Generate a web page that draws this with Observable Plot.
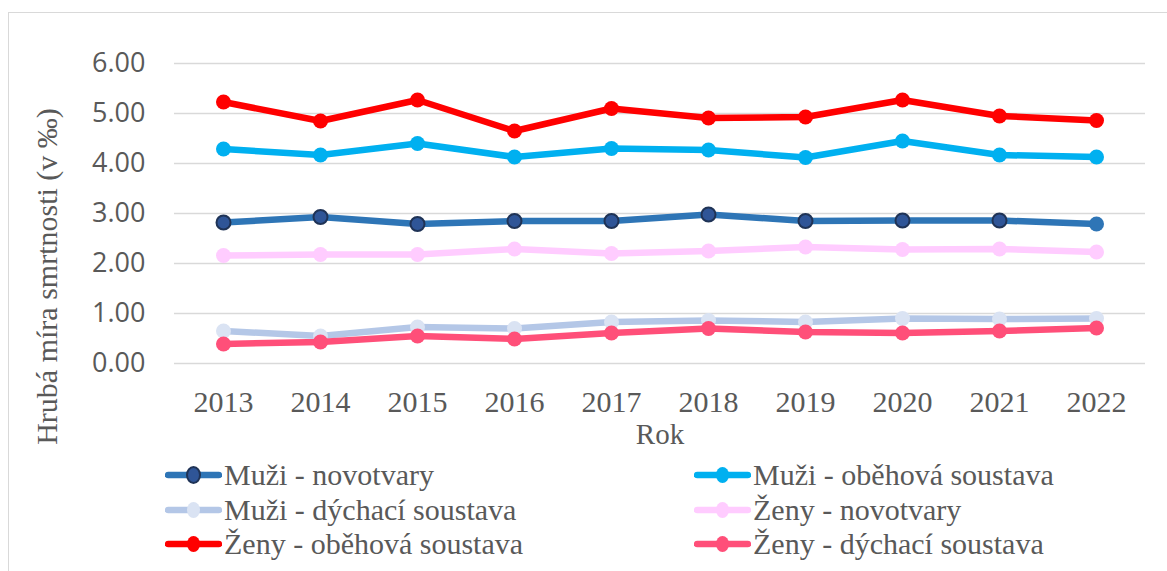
<!DOCTYPE html>
<html>
<head>
<meta charset="utf-8">
<script src="https://cdn.jsdelivr.net/npm/d3@7"></script>
<script src="https://cdn.jsdelivr.net/npm/@observablehq/plot@0.6"></script>
<style>
  html, body { margin: 0; padding: 0; background: #fff; }
  #wrap { position: relative; width: 1167px; height: 571px; overflow: hidden; }
  #frame { position: absolute; left: 8px; top: 12px; width: 1200px; height: 600px;
           border-left: 1.5px solid #D9D9D9; border-top: 1.5px solid #D9D9D9; }
  #chart { position: absolute; left: 0; top: 0; }
  .serif { font-family: "Liberation Serif", "Times New Roman", Times, Tinos, "Nimbus Roman", "Nimbus Roman No9 L", FreeSerif, "DejaVu Serif", serif; }
  .leg { position: absolute; display: flex; align-items: center; height: 34px;
         font-size: 30px; color: #595959; white-space: nowrap; }
  .leg svg { margin-right: 2px; }
</style>
</head>
<body>
<div id="wrap">
  <div id="frame"></div>
  <div id="chart"></div>
  <div id="legend"></div>
</div>
<script>
const years = [2013, 2014, 2015, 2016, 2017, 2018, 2019, 2020, 2021, 2022];
const seriesNames = [
  "Muži - novotvary",
  "Muži - oběhová soustava",
  "Muži - dýchací soustava",
  "Ženy - novotvary",
  "Ženy - oběhová soustava",
  "Ženy - dýchací soustava"
];
const muziNovotvary = [2.82, 2.93, 2.79, 2.85, 2.85, 2.98, 2.85, 2.86, 2.86, 2.79];
const muziObehova   = [4.29, 4.17, 4.40, 4.13, 4.30, 4.27, 4.12, 4.45, 4.17, 4.13];
const muziDychaci   = [0.65, 0.55, 0.73, 0.70, 0.83, 0.86, 0.83, 0.90, 0.89, 0.90];
const zenyNovotvary = [2.16, 2.18, 2.18, 2.29, 2.20, 2.25, 2.33, 2.28, 2.29, 2.23];
const zenyObehova   = [5.23, 4.85, 5.27, 4.65, 5.10, 4.91, 4.93, 5.27, 4.95, 4.86];
const zenyDychaci   = [0.39, 0.43, 0.55, 0.49, 0.61, 0.70, 0.63, 0.61, 0.65, 0.71];
const yTicks = [0, 1, 2, 3, 4, 5, 6];
const xTitle = "Rok";
const yTitle = "Hrubá míra smrtnosti (v ‰)";

const serifFamily = '"Liberation Serif", "Times New Roman", Times, Tinos, "Nimbus Roman", "Nimbus Roman No9 L", FreeSerif, "DejaVu Serif", serif';

const seriesValues = [muziNovotvary, muziObehova, muziDychaci, zenyNovotvary, zenyObehova, zenyDychaci];
const lineColors   = ["#2E75B6", "#00B0F0", "#B4C7E7", "#FFCCFF", "#FF0000", "#FF4F79"];
const dotFills     = ["#2F5597", "#00B0F0", "#DAE3F3", "#FFCCFF", "#FF0000", "#FF4F79"];
const dotStrokes   = ["#1F3356", null, null, null, null, null];

const data = [];
seriesNames.forEach((s, i) => {
  years.forEach((yr, j) => data.push({series: s, si: i, year: yr, value: seriesValues[i][j]}));
});

const marks = [
  Plot.gridY(yTicks, {stroke: "#D9D9D9", strokeOpacity: 1, strokeWidth: 1.6}),
  Plot.axisY(yTicks, {tickSize: 0, tickPadding: 29, tickFormat: d3.format(".2f"),
    fontSize: 27, fontFamily: "Open Sans, sans-serif", fill: "#595959", label: null}),
  Plot.axisX(years, {tickSize: 0, tickPadding: 27, tickFormat: d => String(d),
    fontSize: 30, fontFamily: serifFamily, fill: "#595959", label: null}),
  Plot.text([xTitle], {frameAnchor: "bottom", dy: 80, text: d => d, fontSize: 29,
    fontFamily: serifFamily, fill: "#595959"}),
  Plot.text([yTitle], {frameAnchor: "left", dx: -127, dy: 63, rotate: -90, text: d => d, fontSize: 30,
    fontFamily: serifFamily, fill: "#595959", textAnchor: "middle"})
];
seriesNames.forEach((s, i) => {
  const sd = data.filter(d => d.si === i);
  marks.push(Plot.line(sd, {x: "year", y: "value", stroke: lineColors[i], strokeWidth: 6.5,
    strokeLinejoin: "round", strokeLinecap: "round"}));
  if (dotStrokes[i]) {
    const last = years[years.length - 1];
    marks.push(Plot.dot(sd.filter(d => d.year !== last), {x: "year", y: "value", r: 7,
      fill: dotFills[i], stroke: dotStrokes[i], strokeWidth: 2}));
    marks.push(Plot.dot(sd.filter(d => d.year === last), {x: "year", y: "value", r: 7.5,
      fill: lineColors[i]}));
  } else {
    marks.push(Plot.dot(sd, {x: "year", y: "value", r: 7.5, fill: dotFills[i]}));
  }
});

const chart = Plot.plot({
  width: 1167,
  height: 460,
  marginLeft: 174,
  marginRight: 22,
  marginTop: 63,
  marginBottom: 97,
  style: {background: "transparent", overflow: "visible"},
  x: {type: "point", domain: years, padding: 0.5, axis: null},
  y: {domain: [0, 6], axis: null},
  marks
});
document.getElementById("chart").appendChild(chart);

// Legend
const legendPos = [
  [165, 458], [694, 458],
  [165, 492.5], [694, 492.5],
  [165, 527], [694, 527]
];
const legend = document.getElementById("legend");
seriesNames.forEach((s, i) => {
  const div = document.createElement("div");
  div.className = "leg serif";
  div.style.left = legendPos[i][0] + "px";
  div.style.top = legendPos[i][1] + "px";
  const stroke = dotStrokes[i] ? `stroke="${dotStrokes[i]}" stroke-width="2"` : "";
  div.innerHTML = `<svg width="57" height="20" viewBox="0 0 57 20">
      <line x1="3" y1="10" x2="54" y2="10" stroke="${lineColors[i]}" stroke-width="6.5" stroke-linecap="round"/>
      <ellipse cx="28.5" cy="10" rx="6.5" ry="8" fill="${dotFills[i]}" ${stroke}/>
    </svg><span>${s}</span>`;
  legend.appendChild(div);
});
</script>
</body>
</html>
